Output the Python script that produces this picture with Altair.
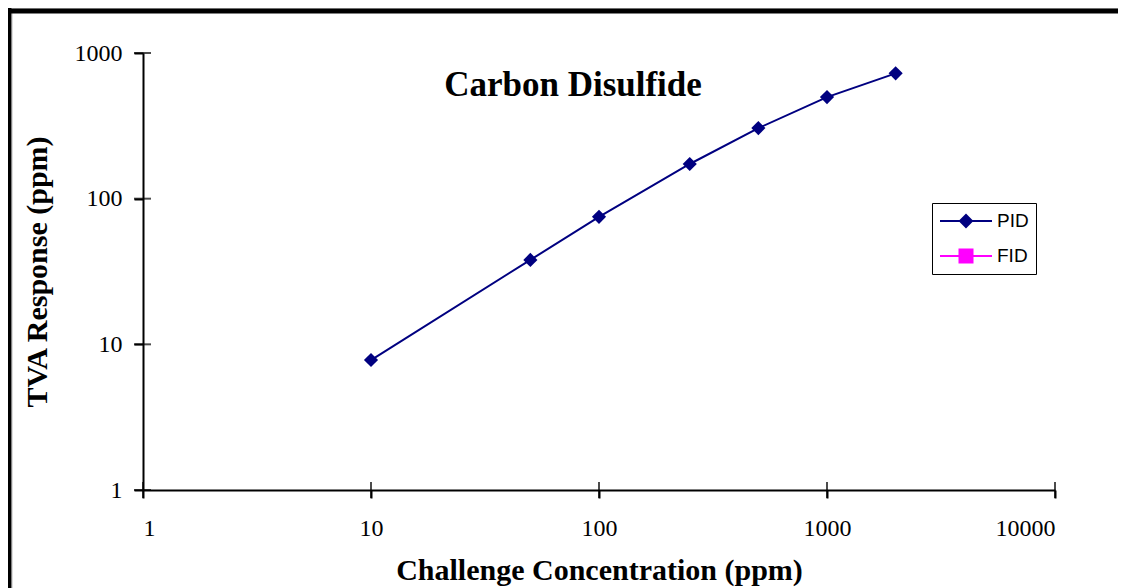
import altair as alt
import pandas as pd

# ---- data ----
pid_conc = [10, 50, 100, 250, 500, 1000, 2000]
pid_resp = [7.8, 38, 75, 173, 305, 498, 725]
fid_conc = []
fid_resp = []
series_names = ["PID", "FID"]
series_colors = ["#000080", "#FF00FF"]
x_ticks = [1, 10, 100, 1000, 10000]
y_ticks = [1, 10, 100, 1000]
chart_title = "Carbon Disulfide"
x_title = "Challenge Concentration (ppm)"
y_title = "TVA Response (ppm)"

df = pd.DataFrame({
    "series": ["PID"] * len(pid_conc) + ["FID"] * len(fid_conc),
    "conc": pid_conc + fid_conc,
    "resp": pid_resp + fid_resp,
})
xt_df = pd.DataFrame({"conc": x_ticks})
yt_df = pd.DataFrame({"resp": y_ticks})

W, H = 1106, 580
SERIF = "Liberation Serif"

xs = alt.Scale(type="log", domain=[1, 10000], range=[131, 1043], nice=False)
ys = alt.Scale(type="log", domain=[1, 1000], range=[482, 45], nice=False)

x_axis = alt.Axis(values=x_ticks, format="d", grid=False, offset=482 - H,
                  domainColor="black", domainWidth=2, tickColor="black", tickWidth=2,
                  tickSize=8, labelFont=SERIF, labelFontSize=24, labelColor="black",
                  labelPadding=18, title=x_title, titleFont=SERIF, titleFontSize=30,
                  titleFontWeight="bold", titleColor="black", titlePadding=15)
y_axis = alt.Axis(values=y_ticks, format="d", grid=False, offset=-131,
                  domainColor="black", domainWidth=2, tickColor="black", tickWidth=2,
                  tickSize=9, labelFont=SERIF, labelFontSize=24, labelColor="black",
                  labelPadding=12, title=y_title, titleFont=SERIF, titleFontSize=30,
                  titleFontWeight="bold", titleColor="black", titlePadding=22)

color_scale = alt.Scale(domain=series_names, range=series_colors)
# legend glyphs: line segment with marker, in symbol units (1 unit = 10 px)
pid_sym = "M-1,0H4.2M1,0L1.6,-0.6L2.2,0L1.6,0.6Z"
fid_sym = "M-1,0H4.2M0.95,-0.65H2.25V0.65H0.95Z"
shape_scale = alt.Scale(domain=series_names, range=[pid_sym, fid_sym])

leg = alt.Legend(orient="none", legendX=920, legendY=195, title=None,
                 strokeColor="black", fillColor="white", padding=7,
                 symbolSize=400, symbolStrokeWidth=2,
                 labelFont="Liberation Sans", labelFontSize=19,
                 labelColor="black", labelOffset=36, rowPadding=14,
                 cornerRadius=0)

base = alt.Chart(df)

line = base.mark_line(strokeWidth=2, clip=False).encode(
    x=alt.X("conc:Q", scale=xs, axis=x_axis),
    y=alt.Y("resp:Q", scale=ys, axis=y_axis),
    color=alt.Color("series:N", scale=color_scale, legend=leg),
    detail="series:N",
)
points = base.mark_point(filled=True, shape="diamond", size=200, opacity=1).encode(
    x=alt.X("conc:Q", scale=xs, axis=x_axis),
    y=alt.Y("resp:Q", scale=ys, axis=y_axis),
    color=alt.Color("series:N", scale=color_scale, legend=leg),
)
legend_layer = base.transform_filter("false").mark_point(
    filled=False, strokeWidth=2, opacity=1).encode(
    x=alt.X("conc:Q", scale=xs, axis=x_axis),
    y=alt.Y("resp:Q", scale=ys, axis=y_axis),
    color=alt.Color("series:N", scale=color_scale, legend=leg),
    fill=alt.Fill("series:N", scale=color_scale, legend=leg),
    shape=alt.Shape("series:N", scale=shape_scale, legend=leg),
)

# tick marks that cross the axis lines (inner half)
x_cross = alt.Chart(xt_df).mark_tick(color="black", thickness=2, size=16, orient="vertical").encode(
    x=alt.X("conc:Q", scale=xs, axis=x_axis), y=alt.value(482))
y_cross = alt.Chart(yt_df).mark_tick(color="black", thickness=2, size=17, orient="horizontal").encode(
    y=alt.Y("resp:Q", scale=ys, axis=y_axis), x=alt.value(130.5))

one = pd.DataFrame({"t": [chart_title]})
title_layer = alt.Chart(one).mark_text(font=SERIF, fontSize=35, fontWeight="bold",
                                       color="black", align="center", baseline="middle").encode(
    x=alt.value(561), y=alt.value(77), text="t:N")
frame_top = alt.Chart(one).mark_rule(color="black", strokeWidth=5).encode(
    x=alt.value(-4), x2=alt.value(W), y=alt.value(3))
frame_left = alt.Chart(one).mark_rule(color="black", strokeWidth=4).encode(
    x=alt.value(-2.5), y=alt.value(0), y2=alt.value(H))

chart = alt.layer(frame_top, frame_left, x_cross, y_cross, line, points, legend_layer,
                  title_layer).properties(
    width=W, height=H,
    autosize=alt.AutoSizeParams(type="none"),
    padding={"left": 4, "top": 0, "right": 0, "bottom": 0},
).configure_view(stroke=None).configure(background="white")

chart.save("out.html", embed_options={"renderer": "svg", "actions": False})
